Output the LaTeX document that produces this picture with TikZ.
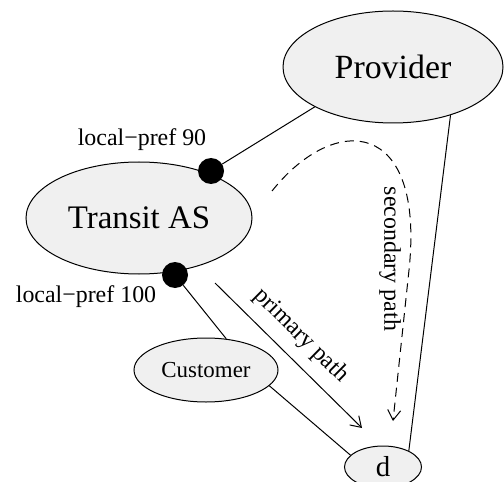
\documentclass[tikz,border=0pt]{standalone}
\usepackage{fontspec}
\setmainfont{Liberation Serif}
\usetikzlibrary{shapes.geometric,arrows.meta}
\tikzset{
  asnode/.style={ellipse, draw=black, fill=black!6, line width=1bp, inner sep=0pt},
  pref/.style={circle, fill=black, inner sep=0pt, minimum size=26bp},
  link/.style={line width=1bp},
  route/.style={line width=1bp, -{Straight Barb[length=10bp,width=13bp,line width=1bp]}},
  lbl/.style={inner sep=0pt, font=\fontsize{24}{28}\selectfont}
}
\begin{document}
\begin{tikzpicture}[x=1bp,y=-1bp]
\useasboundingbox (0,0) rectangle (504,482);

% autonomous systems
\node[asnode, minimum width=220bp, minimum height=112bp, font=\fontsize{34}{40}\selectfont] (provider) at (393,67) {Provider};
\node[asnode, minimum width=226bp, minimum height=112bp, font=\fontsize{33}{40}\selectfont] (transit) at (139,218) {Transit AS};
\node[asnode, minimum width=144bp, minimum height=64bp, font=\fontsize{23}{28}\selectfont] (customer) at (206,370) {Customer};
\node[asnode, minimum width=77bp, minimum height=42bp, font=\fontsize{29}{34}\selectfont] (d) at (383,467) {d};

% sessions on the transit AS
\node[pref] (p90) at (211,171) {};
\node[pref] (p100) at (175,275) {};
\node[lbl] (l90) at (142,140) {local−pref 90};
\node[lbl] (l100) at (86,297) {local−pref 100};

% links
\draw[link] (provider.-153) -- (p90);
\draw[link] (p100) -- (customer.57);
\draw[link] (customer.-14) -- (d.160);
\draw[link] (provider.-40) -- (d.32);

% routes towards d
\coordinate (pa) at (215,283);
\coordinate (pb) at (362,428);
\draw[route] (pa) -- (pb);
\node[lbl, rotate=-44.6] (plab) at (301,336) {primary path};

\coordinate (sa) at (272,191);
\coordinate (sm) at (409,270);
\coordinate (sb) at (393,421);
\draw[route, dash pattern=on 9bp off 6bp] (sa) .. controls (335,112) and (425,118) .. (sm) -- (sb);
\node[lbl, rotate=-90] (slab) at (390,259) {secondary path};
\end{tikzpicture}
\end{document}
